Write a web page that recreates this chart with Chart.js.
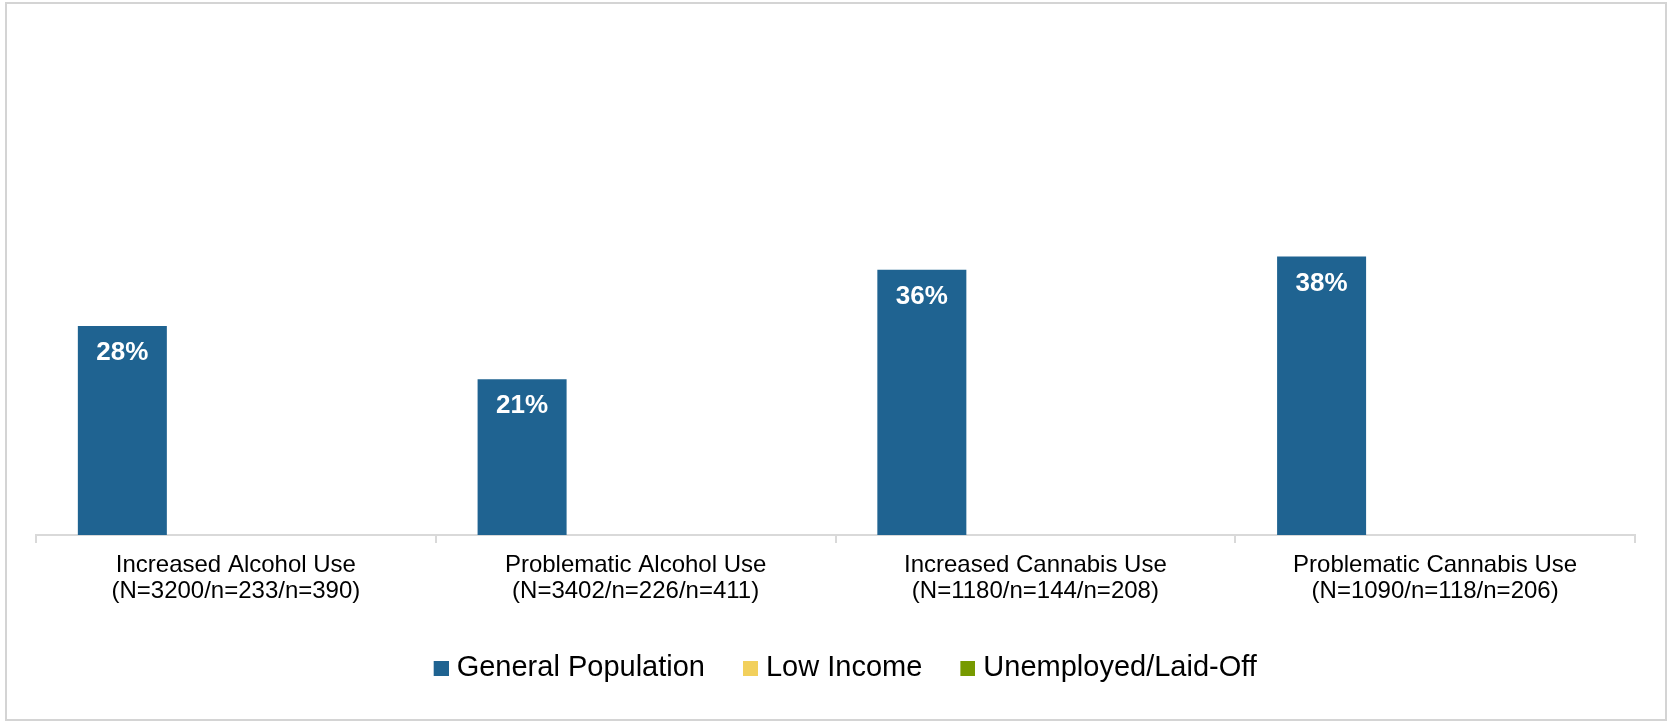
<!DOCTYPE html>
<html>
<head>
<meta charset="utf-8">
<script src="https://cdn.jsdelivr.net/npm/chart.js@4/dist/chart.umd.min.js"></script>
<style>
  html, body { margin: 0; padding: 0; background: #fff; }
  #frame { position: absolute; left: 5px; top: 2px; width: 1658px; height: 715px; border: 2px solid #d4d4d4; box-sizing: content-box; }
  #wrap { position: absolute; left: 0; top: 0; width: 1669px; height: 721px; }
</style>
</head>
<body>
<div id="frame"></div>
<div id="wrap"><canvas id="c" width="1669" height="721"></canvas></div>
<script>
const categories = [
  ["Increased Alcohol Use", "(N=3200/n=233/n=390)"],
  ["Problematic Alcohol Use", "(N=3402/n=226/n=411)"],
  ["Increased Cannabis Use", "(N=1180/n=144/n=208)"],
  ["Problematic Cannabis Use", "(N=1090/n=118/n=206)"]
];
const seriesNames = ["General Population", "Low Income", "Unemployed/Laid-Off"];
const generalPopulation = [28.3, 21.1, 35.9, 37.7];
const lowIncome = [null, null, null, null];
const unemployed = [null, null, null, null];
const seriesColors = ["#1f6391", "#f2d05c", "#779a00"];

const FONT = "'Liberation Sans', Arial, sans-serif";

// Legend marker: a 15x15 square drawn on the right side of a wider transparent image,
// so the coloured square sits close to its label text.
const MARK_W = 28;
function makeMarker(color) {
  const c = document.createElement('canvas');
  c.width = MARK_W + 13;
  c.height = 15;
  const x = c.getContext('2d');
  x.fillStyle = color;
  x.fillRect(c.width - 15, 0, 15, 15);
  return c;
}
const markers = seriesColors.map(makeMarker);

const barLabels = {
  id: 'barLabels',
  afterDatasetsDraw(chart) {
    const ctx = chart.ctx;
    ctx.save();
    ctx.font = "bold 26px " + FONT;
    ctx.fillStyle = "#ffffff";
    ctx.textAlign = "center";
    ctx.textBaseline = "middle";
    chart.data.datasets.forEach((ds, di) => {
      const meta = chart.getDatasetMeta(di);
      meta.data.forEach((el, i) => {
        const v = ds.data[i];
        if (v === null || v === undefined) return;
        ctx.fillText(Math.round(v) + "%", el.x, el.y + 27);
      });
    });
    ctx.restore();
  }
};

new Chart(document.getElementById('c'), {
  type: 'bar',
  data: {
    labels: categories,
    datasets: [
      { label: seriesNames[0], data: generalPopulation, backgroundColor: seriesColors[0] },
      { label: seriesNames[1], data: lowIncome, backgroundColor: seriesColors[1] },
      { label: seriesNames[2], data: unemployed, backgroundColor: seriesColors[2] }
    ]
  },
  options: {
    responsive: false,
    animation: false,
    devicePixelRatio: 1,
    categoryPercentage: 0.852,
    barPercentage: 0.784,
    layout: { padding: { left: 36, right: 34, top: 18, bottom: 28.5 } },
    plugins: {
      legend: {
        position: 'bottom',
        labels: {
          usePointStyle: true,
          pointStyleWidth: MARK_W,
          boxWidth: MARK_W,
          boxHeight: 15,
          padding: 18.5,
          color: '#000',
          font: { family: FONT, size: 29 },
          generateLabels(chart) {
            const items = Chart.defaults.plugins.legend.labels.generateLabels(chart);
            items.forEach((it, i) => { it.pointStyle = markers[i]; });
            return items;
          }
        }
      },
      tooltip: { enabled: false }
    },
    scales: {
      x: {
        grid: { display: true, drawOnChartArea: false, drawTicks: true, tickLength: 8, color: '#d9d9d9', lineWidth: 2 },
        border: { display: true, color: '#d9d9d9', width: 2 },
        ticks: { color: '#000', padding: 9, maxRotation: 0, font: { family: FONT, size: 24, lineHeight: '26px' } },
        afterFit(scale) { scale.height = 100; }
      },
      y: {
        display: false,
        min: 0,
        max: 70
      }
    }
  },
  plugins: [barLabels]
});
</script>
</body>
</html>
